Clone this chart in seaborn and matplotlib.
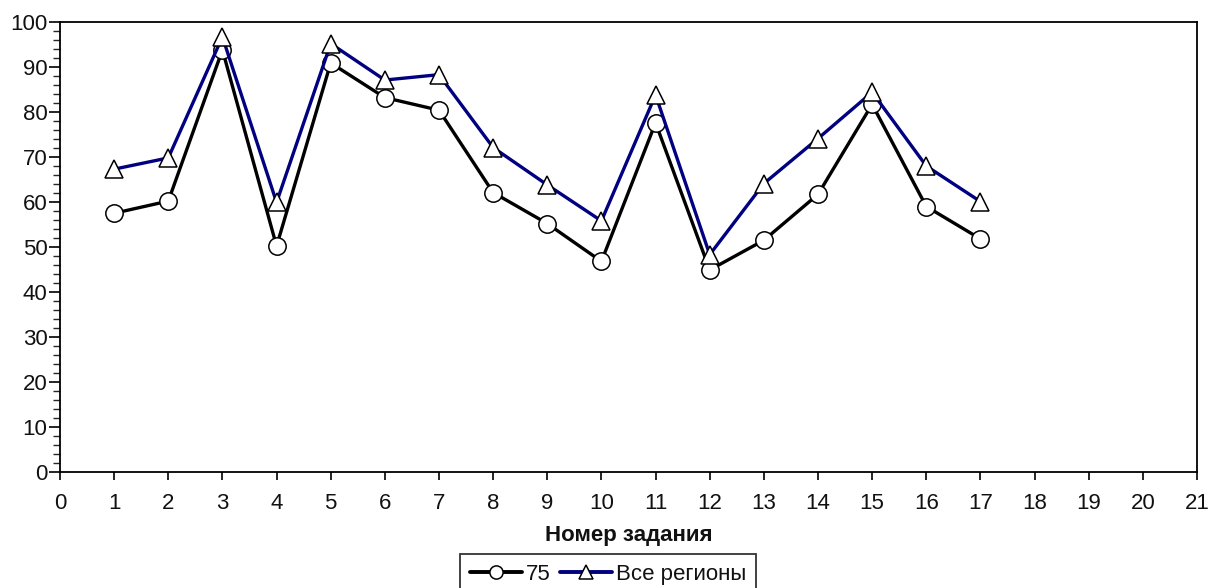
import matplotlib
matplotlib.use("Agg")
import matplotlib.pyplot as plt
from matplotlib.ticker import MultipleLocator
from matplotlib.lines import Line2D
import pandas as pd
import seaborn as sns

tasks = list(range(1, 18))
region_75 = [57.5, 60.2, 93.8, 50.2, 90.9, 83.2, 80.4, 62.1, 55.2, 46.8, 77.6,
             44.9, 51.5, 61.7, 81.7, 59.0, 51.8]
all_regions = [67.3, 69.8, 96.7, 59.9, 95.2, 87.1, 88.3, 72.1, 63.8, 55.8, 83.8,
               48.3, 64.1, 74.1, 84.4, 68.0, 60.1]
series_names = ["75", "Все регионы"]
x_label = "Номер задания"

sns.set_theme(style="white")
plt.rcParams["font.family"] = ["Liberation Sans", "DejaVu Sans"]

df = pd.DataFrame({
    "task": tasks * 2,
    "value": region_75 + all_regions,
    "series": [series_names[0]] * len(tasks) + [series_names[1]] * len(tasks),
})

fig = plt.figure(figsize=(12.1, 5.88), dpi=100)
ax = fig.add_axes([60 / 1210, 1 - 472 / 588, (1197 - 60) / 1210, (472 - 22) / 588])

palette = {series_names[0]: "#000000", series_names[1]: "#000080"}
markers = {series_names[0]: "o", series_names[1]: "^"}
sns.lineplot(data=df, x="task", y="value", hue="series", style="series",
             palette=palette, markers=markers, dashes=False, ax=ax,
             linewidth=2.4, markersize=12.5, markerfacecolor="white",
             markeredgecolor="black", markeredgewidth=1.1, legend=False)

ax.set_xlim(0, 21)
ax.set_ylim(0, 100)
ax.xaxis.set_major_locator(MultipleLocator(1))
ax.yaxis.set_major_locator(MultipleLocator(10))
ax.yaxis.set_minor_locator(MultipleLocator(2))
ax.tick_params(axis="both", which="major", direction="out", color="black",
               labelsize=16, labelcolor="#111111")
ax.tick_params(axis="x", which="major", length=6, width=1.2, pad=9,
               bottom=True)
ax.tick_params(axis="y", which="major", length=8, width=1.2, pad=1, left=True)
ax.tick_params(axis="y", which="minor", length=5, width=1.0, left=True)
for side in ["left", "right", "top", "bottom"]:
    ax.spines[side].set_visible(True)
    ax.spines[side].set_color("black")
    ax.spines[side].set_linewidth(1.3)
ax.grid(False)
ax.set_ylabel("")
ax.set_xlabel(x_label, fontsize=16, fontweight="bold", labelpad=8,
              color="#111111")

handles = [
    Line2D([], [], color=palette[n], marker=markers[n], linewidth=2.8,
           markersize=9.5, markerfacecolor="white", markeredgecolor="black",
           markeredgewidth=1.1)
    for n in series_names
]
leg = fig.legend(handles, series_names, loc="upper center",
                 bbox_to_anchor=(608 / 1210, 1 - 554 / 588), ncol=2,
                 fontsize=16, frameon=True, fancybox=False, edgecolor="black",
                 handlelength=2.35, handletextpad=0.18, columnspacing=0.4,
                 borderpad=0.45, borderaxespad=0)
leg.get_frame().set_linewidth(1.3)
for t in leg.get_texts():
    t.set_color("#111111")

fig.savefig("out.png", dpi=100)
